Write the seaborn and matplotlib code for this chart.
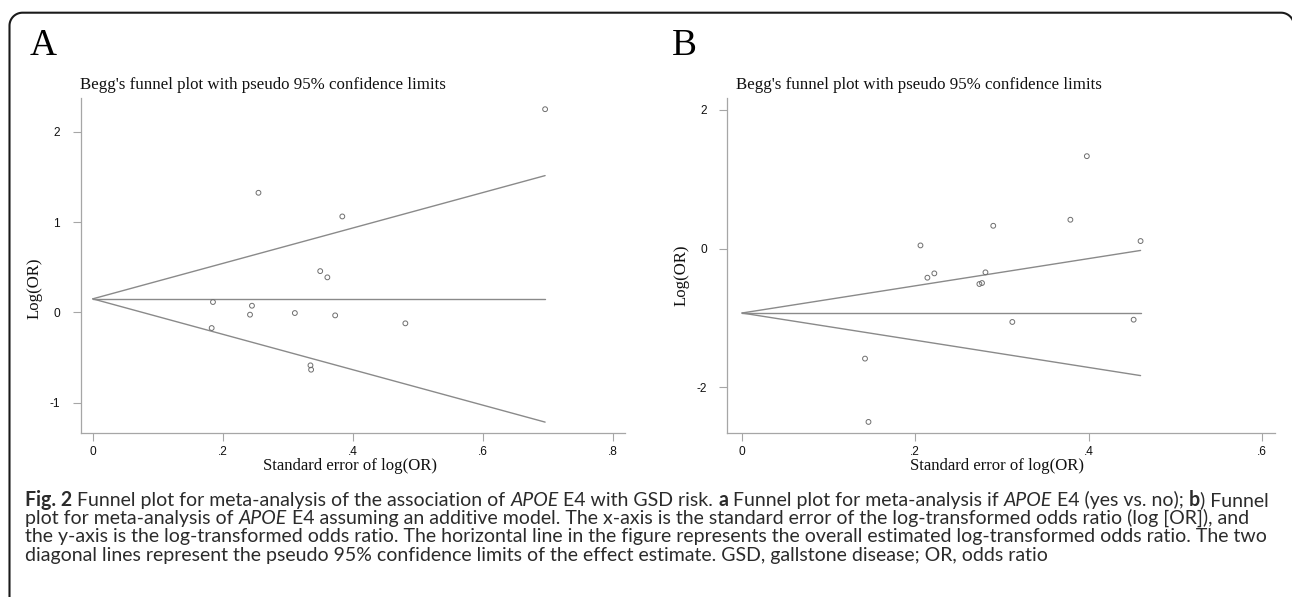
import numpy as np
import pandas as pd
import matplotlib
matplotlib.use("Agg")
import matplotlib.pyplot as plt
import seaborn as sns
from matplotlib.path import Path
from matplotlib.patches import PathPatch

# ---------------- data ----------------
se_A = [0.696, 0.255, 0.384, 0.350, 0.361, 0.185, 0.245, 0.242, 0.311, 0.373, 0.481, 0.183, 0.335, 0.336]
logor_A = [2.249, 1.324, 1.062, 0.457, 0.388, 0.115, 0.074, -0.025, -0.007, -0.033, -0.121, -0.173, -0.586, -0.634]
pooled_A = 0.15

se_B = [0.398, 0.379, 0.290, 0.460, 0.206, 0.222, 0.214, 0.281, 0.277, 0.274, 0.312, 0.452, 0.142, 0.146]
logor_B = [1.333, 0.417, 0.330, 0.110, 0.047, -0.356, -0.418, -0.341, -0.495, -0.509, -1.056, -1.023, -1.584, -2.496]
pooled_B = -0.927

xticks_A = [0, 0.2, 0.4, 0.6, 0.8]
xticklabels_A = ["0", ".2", ".4", ".6", ".8"]
yticks_A = [-1, 0, 1, 2]
yticklabels_A = ["-1", "0", "1", "2"]

xticks_B = [0, 0.2, 0.4, 0.6]
xticklabels_B = ["0", ".2", ".4", ".6"]
yticks_B = [-2, 0, 2]
yticklabels_B = ["-2", "0", "2"]

panel_letters = ["A", "B"]
title_text = "Begg's funnel plot with pseudo 95% confidence limits"
xlabel_text = "Standard error of log(OR)"
ylabel_text = "Log(OR)"

caption_lines = [
    [("Fig. 2", "bold"), (" Funnel plot for meta-analysis of the association of ", "normal"), ("APOE", "italic"),
     (" E4 with GSD risk. ", "normal"), ("a", "bold"), (" Funnel plot for meta-analysis if ", "normal"),
     ("APOE", "italic"), (" E4 (yes vs. no); ", "normal"), ("b", "bold"), (") Funnel", "normal")],
    [("plot for meta-analysis of ", "normal"), ("APOE", "italic"),
     (" E4 assuming an additive model. The x-axis is the standard error of the log-transformed odds ratio (log [OR]), and", "normal")],
    [("the y-axis is the log-transformed odds ratio. The horizontal line in the figure represents the overall estimated log-transformed odds ratio. The two", "normal")],
    [("diagonal lines represent the pseudo 95% confidence limits of the effect estimate. GSD, gallstone disease; OR, odds ratio", "normal")],
]

# ---------------- setup ----------------
sns.set_style("ticks")
plt.rcParams["font.family"] = ["Liberation Sans", "DejaVu Sans"]

W, H = 1292, 597
fig = plt.figure(figsize=(W / 100, H / 100), dpi=100)
renderer = fig.canvas.get_renderer()

def fx(px):
    return px / W

def fy(py):
    return 1 - py / H

def text_w(s, **kw):
    t1 = fig.text(0, 0, "|" + s + "|", **kw)
    w1 = t1.get_window_extent(renderer).width
    t1.remove()
    t2 = fig.text(0, 0, "||", **kw)
    w2 = t2.get_window_extent(renderer).width
    t2.remove()
    return w1 - w2

def fit_size(s, target, base=10, **kw):
    return base * target / text_w(s, fontsize=base, **kw)

# background frame (pixel coords): left side + top with rounded corners; right corner runs off-canvas
bg = fig.add_axes([0, 0, 1, 1], zorder=-5)
bg.set_xlim(0, W)
bg.set_ylim(H, 0)
bg.axis("off")
L, T, R, B, r = 9.5, 12.7, 1294.0, 640.0, 13.0
a1 = np.linspace(np.pi, 1.5 * np.pi, 20)
a2 = np.linspace(1.5 * np.pi, 2 * np.pi, 20)
xs = np.concatenate([[L], L + r + r * np.cos(a1), R - r + r * np.cos(a2)])
ys = np.concatenate([[B], T + r + r * np.sin(a1), T + r + r * np.sin(a2)])
bg.add_patch(PathPatch(Path(np.column_stack([xs, ys])), fill=False,
                       edgecolor="#1a1a1a", linewidth=1.5))

line_col = "#8a8a8a"
axis_col = "#a6a6a6"
marker_col = "#6e6e6e"

panels = [
    dict(se=se_A, lor=logor_A, pooled=pooled_A, left=80.5, right=624.6,
         xlim=(-0.0188, 0.8183), ylim=(-1.338, 2.373),
         xt=xticks_A, xtl=xticklabels_A, yt=yticks_A, ytl=yticklabels_A,
         letter_x=30, title_x=80.5, xlabel_x=350, ylabel_xy=(35, 288)),
    dict(se=se_B, lor=logor_B, pooled=pooled_B, left=727.5, right=1274.7,
         xlim=(-0.0167, 0.6148), ylim=(-2.66, 2.171),
         xt=xticks_B, xtl=xticklabels_B, yt=yticks_B, ytl=yticklabels_B,
         letter_x=671.5, title_x=735.5, xlabel_x=997, ylabel_xy=(682, 275)),
]

top, bottom = 98, 433.3
serif = ["Liberation Serif", "DejaVu Serif"]
title_fs = fit_size(title_text, 364, family=serif)
xlabel_fs = fit_size(xlabel_text, 175, family=serif)

for i, p in enumerate(panels):
    ax = fig.add_axes([fx(p["left"]), fy(bottom), (p["right"] - p["left"]) / W, (bottom - top) / H])
    ax.set_facecolor("none")
    smax = max(p["se"])
    lines_df = pd.DataFrame({
        "se": [0, smax, 0, smax, 0, smax],
        "y": [p["pooled"], p["pooled"],
              p["pooled"], p["pooled"] + 1.96 * smax,
              p["pooled"], p["pooled"] - 1.96 * smax],
        "line": ["c", "c", "u", "u", "l", "l"],
    })
    for name, g in lines_df.groupby("line"):
        sns.lineplot(data=g, x="se", y="y", ax=ax, color=line_col, linewidth=1.0,
                     estimator=None, sort=False, legend=False)
    df = pd.DataFrame({"se": p["se"], "lor": p["lor"]})
    sns.scatterplot(data=df, x="se", y="lor", ax=ax, marker="o", s=12,
                    facecolors="none", edgecolor=marker_col, linewidth=0.7, legend=False, zorder=3)
    ax.set_xlim(*p["xlim"])
    ax.set_ylim(*p["ylim"])
    ax.set_xticks(p["xt"])
    ax.set_xticklabels(p["xtl"])
    ax.set_yticks(p["yt"])
    ax.set_yticklabels(p["ytl"])
    ax.set_xlabel("")
    ax.set_ylabel("")
    for s in ["top", "right"]:
        ax.spines[s].set_visible(False)
    for s in ["left", "bottom"]:
        ax.spines[s].set_color(axis_col)
        ax.spines[s].set_linewidth(0.9)
    ax.tick_params(axis="both", direction="out", length=5.8, width=0.8, color=axis_col,
                   labelcolor="#111111", labelsize=8.6)
    ax.tick_params(axis="y", pad=9.2)
    ax.tick_params(axis="x", pad=3.4)
    for lab in ax.get_xticklabels() + ax.get_yticklabels():
        lab.set_family(["Liberation Sans", "DejaVu Sans"])

    fig.text(fx(p["letter_x"]), fy(55), panel_letters[i], family=serif, fontsize=27,
             ha="left", va="baseline", color="#000000")
    fig.text(fx(p["title_x"]), fy(89), title_text, family=serif, fontsize=title_fs,
             ha="left", va="baseline", color="#111111")
    fig.text(fx(p["xlabel_x"]), fy(470), xlabel_text, family=serif, fontsize=xlabel_fs,
             ha="center", va="baseline", color="#111111")
    fig.text(fx(p["ylabel_xy"][0]), fy(p["ylabel_xy"][1]), ylabel_text, family=serif,
             fontsize=xlabel_fs, rotation=90, ha="center", va="center", color="#111111")

# ---------------- caption ----------------
cap_family = ["Lato", "DejaVu Sans"]
cap_color = "#2b2b2b"
style_kw = {
    "normal": dict(family=cap_family, fontweight="normal", fontstyle="normal"),
    "bold": dict(family=cap_family, fontweight="bold", fontstyle="normal"),
    "italic": dict(family=cap_family, fontweight="normal", fontstyle="italic"),
}
base = 10
w_line1 = sum(text_w(t, fontsize=base, **style_kw[st]) for t, st in caption_lines[0])
cap_fs = base * 1245 / w_line1

baselines = [505.7, 524.0, 542.3, 560.6]
for segs, yb in zip(caption_lines, baselines):
    x = 25.0
    for t, st in segs:
        fig.text(fx(x), fy(yb), t, fontsize=cap_fs, ha="left", va="baseline",
                 color=cap_color, **style_kw[st])
        x += text_w(t, fontsize=cap_fs, **style_kw[st])

fig.savefig("out.png", dpi=100)
